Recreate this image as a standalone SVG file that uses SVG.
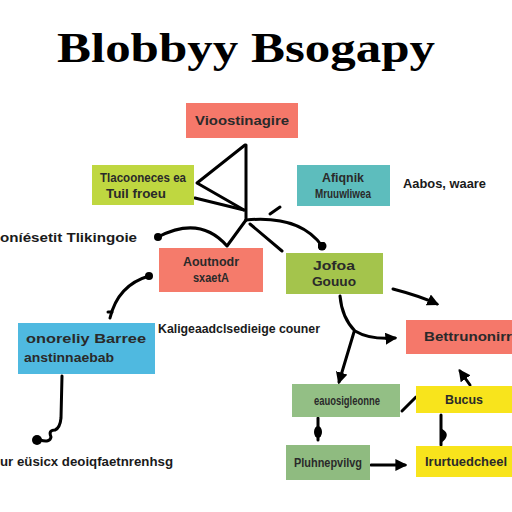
<svg xmlns="http://www.w3.org/2000/svg" width="512" height="512" viewBox="0 0 512 512">
<defs>
<style>
.t{font-family:"Liberation Sans",Arial,sans-serif;font-weight:bold;font-size:12px;fill:#2a2a2a}
.lbl{font-family:"Liberation Sans",Arial,sans-serif;font-weight:bold;font-size:12px;fill:#1a1a1a}
.ln{fill:none;stroke:#000;stroke-width:3;stroke-linecap:round;stroke-linejoin:round}
</style>
<marker id="ah" viewBox="0 0 10 10" refX="8" refY="5" markerWidth="4" markerHeight="4" orient="auto-start-reverse">
<path d="M0,0 L10,5 L0,10 Z" fill="#000"/>
</marker>
<marker id="dot" viewBox="0 0 10 10" refX="5" refY="5" markerWidth="3" markerHeight="3">
<circle cx="5" cy="5" r="5" fill="#000"/>
</marker>
</defs>
<rect width="512" height="512" fill="#fff"/>
<text x="57" y="62" font-family="Liberation Serif,serif" font-weight="bold" font-size="42" textLength="378" lengthAdjust="spacingAndGlyphs" fill="#000">Blobbyy Bsogapy</text>

<g id="connectors">
<path class="ln" d="M245,145 L197,183 L244,210"/>
<path class="ln" d="M195,198 L244,210"/>
<path class="ln" d="M246,145 L246,220"/>
<path class="ln" d="M158,237 Q200,215 227,246 L246,220"/>
<path class="ln" d="M246,220 Q300,215 322,246" marker-end="url(#dot)"/>
<path class="ln" d="M250,224 L282,251"/>
<path class="ln" d="M270,214 L280,207" stroke-width="5"/>
<circle cx="158" cy="237" r="4"/>
<circle cx="149" cy="276" r="4"/>
<path class="ln" d="M149,276 Q118,285 110,318"/>
<path class="ln" d="M108,312 L112,312" stroke-width="5"/>
<path class="ln" d="M62,376 L61,418 Q60,428 55,430 Q48,430 51,437 Q50,443 40,440"/>
<circle cx="37" cy="440" r="5"/>
<path class="ln" d="M340,296 Q342,318 355,331 Q370,340 395,338" marker-end="url(#ah)"/>
<path class="ln" d="M354,332 L339,382" marker-end="url(#ah)"/>
<path class="ln" d="M393,289 Q420,296 437,304" marker-end="url(#ah)"/>
<path class="ln" d="M402,411 L416,397"/>
<path class="ln" d="M470,385 L460,371" marker-end="url(#ah)"/>
<path class="ln" d="M441,415 L441,445"/>
<path d="M442,430 Q449,434 443,440 Z" fill="#000" stroke="#000" stroke-width="2"/>
<path class="ln" d="M318,418 L318,440"/>
<ellipse cx="318" cy="432" rx="4" ry="6"/>
<path class="ln" d="M371,465 L405,465" marker-end="url(#ah)"/>
</g>

<g id="n1"><rect x="186" y="103" width="112" height="35" fill="#f5786a"/><text class="t" x="242" y="125" text-anchor="middle" textLength="94" lengthAdjust="spacingAndGlyphs">Vioostinagire</text></g>
<g id="n2"><rect x="92" y="165" width="102" height="40" fill="#bfd740"/><text class="t" x="143" y="182" text-anchor="middle" textLength="86" lengthAdjust="spacingAndGlyphs">Tlacooneces ea</text><text class="t" x="136" y="198" text-anchor="middle" textLength="60" lengthAdjust="spacingAndGlyphs">Tuil froeu</text></g>
<g id="n3"><rect x="297" y="165" width="93" height="41" fill="#5dbdbd"/><text class="t" x="343" y="182" text-anchor="middle" textLength="42" lengthAdjust="spacingAndGlyphs">Afiqnik</text><text class="t" x="343" y="198" text-anchor="middle" textLength="56" lengthAdjust="spacingAndGlyphs">Mruuwliwea</text></g>
<text class="lbl" x="403" y="188" textLength="83" lengthAdjust="spacingAndGlyphs">Aabos, waare</text>
<text class="lbl" x="0" y="242" textLength="137" lengthAdjust="spacingAndGlyphs">oníésetit Tlikingoie</text>
<g id="n4"><rect x="159" y="248" width="104" height="44" fill="#f57b6b"/><text class="t" x="211" y="266" text-anchor="middle" textLength="56" lengthAdjust="spacingAndGlyphs">Aoutnodr</text><text class="t" x="211" y="282" text-anchor="middle" textLength="36" lengthAdjust="spacingAndGlyphs">sxaetA</text></g>
<g id="n5"><rect x="286" y="253" width="97" height="41" fill="#a4c44c"/><text class="t" x="334" y="270" text-anchor="middle" textLength="42" lengthAdjust="spacingAndGlyphs">Jofoa</text><text class="t" x="334" y="286" text-anchor="middle" textLength="44" lengthAdjust="spacingAndGlyphs">Gouuo</text></g>
<g id="n6"><rect x="18" y="323" width="137" height="51" fill="#4fb9e0"/><text class="t" x="86" y="343" text-anchor="middle" textLength="120" lengthAdjust="spacingAndGlyphs">onoreliy Barree</text><text class="t" x="69" y="362" text-anchor="middle" textLength="90" lengthAdjust="spacingAndGlyphs">anstinnaebab</text></g>
<text class="lbl" x="158" y="333" textLength="162" lengthAdjust="spacingAndGlyphs">Kaligeaadclsedieige couner</text>
<g id="n7"><rect x="406" y="320" width="106" height="34" fill="#f5786a"/><text class="t" x="424" y="341" textLength="88" lengthAdjust="spacingAndGlyphs">Bettrunonirr</text></g>
<g id="n8"><rect x="292" y="384" width="108" height="33" fill="#93bf85"/><text class="t" x="347" y="405" text-anchor="middle" textLength="66" lengthAdjust="spacingAndGlyphs">eauosigleonne</text></g>
<g id="n9"><rect x="416" y="386" width="96" height="27" fill="#f8e41c"/><text class="t" x="464" y="404" text-anchor="middle" textLength="38" lengthAdjust="spacingAndGlyphs">Bucus</text></g>
<g id="n10"><rect x="286" y="445" width="84" height="35" fill="#8fbb80"/><text class="t" x="328" y="467" text-anchor="middle" textLength="68" lengthAdjust="spacingAndGlyphs">Pluhnepvilvg</text></g>
<g id="n11"><rect x="416" y="446" width="96" height="31" fill="#f8e41c"/><text class="t" x="425" y="466" textLength="82" lengthAdjust="spacingAndGlyphs">Irurtuedcheel</text></g>
<text class="lbl" x="0" y="466" textLength="173" lengthAdjust="spacingAndGlyphs">ur eüsicx deoiqfaetnrenhsg</text>
</svg>
